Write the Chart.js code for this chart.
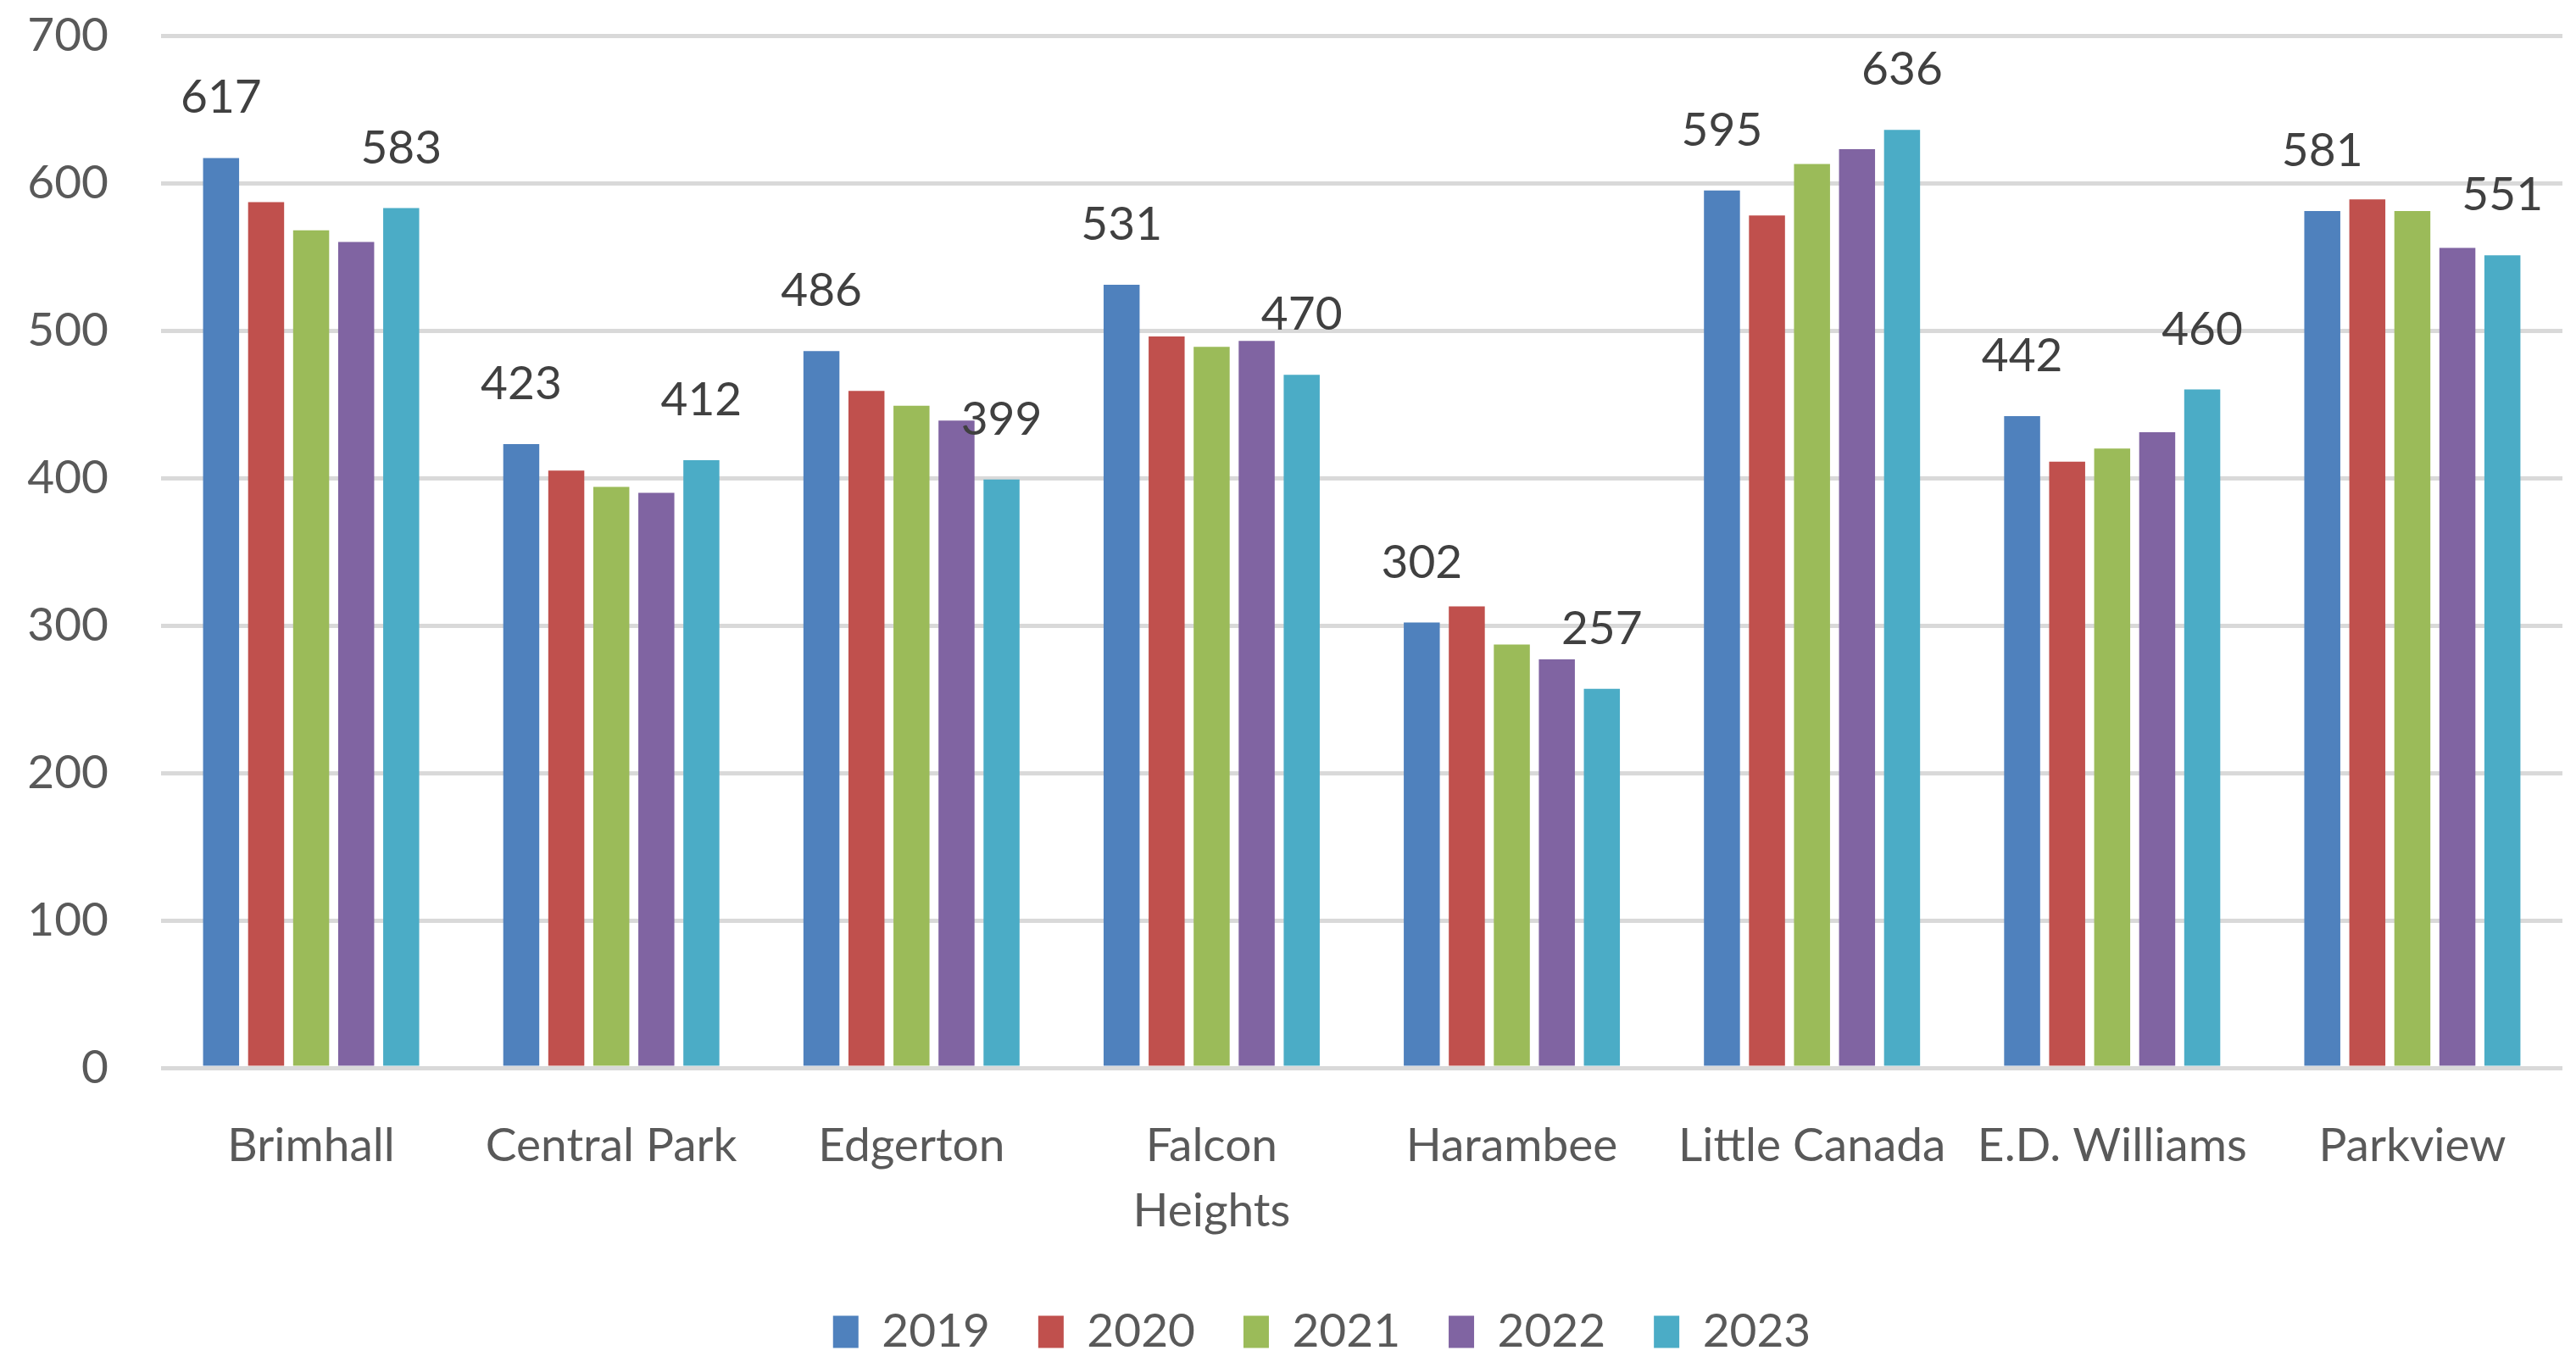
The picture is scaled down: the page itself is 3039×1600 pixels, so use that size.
<!DOCTYPE html>
<html>
<head>
<meta charset="utf-8">
<script src="https://cdn.jsdelivr.net/npm/chart.js@4/dist/chart.umd.min.js"></script>
<style>
  body { margin: 0; background: #ffffff; }
  canvas { display: block; }
</style>
</head>
<body>
<canvas id="schoolChart" width="3039" height="1600"></canvas>
<script>
// カテゴリ（学校名）
const categories = [
  "Brimhall",
  "Central Park",
  "Edgerton",
  ["Falcon", "Heights"],
  "Harambee",
  "Little Canada",
  "E.D. Williams",
  "Parkview",
];

// 年ごとの値
const years = ["2019", "2020", "2021", "2022", "2023"];
const values2019 = [617, 423, 486, 531, 302, 595, 442, 581];
const values2020 = [587, 405, 459, 496, 313, 578, 411, 589];
const values2021 = [568, 394, 449, 489, 287, 613, 420, 581];
const values2022 = [560, 390, 439, 493, 277, 623, 431, 556];
const values2023 = [583, 412, 399, 470, 257, 636, 460, 551];

// Y軸の目盛り
const yTicks = [0, 100, 200, 300, 400, 500, 600, 700];

const colors = ["#4F81BD", "#C0504D", "#9BBB59", "#8064A2", "#4BACC6"];
const seriesValues = [values2019, values2020, values2021, values2022, values2023];

// 値ラベルを表示する系列（2019と2023のみ）
const labeledSeries = [0, 4];

Chart.defaults.font.family = "Lato, 'Open Sans', sans-serif";
Chart.defaults.font.size = 55;
Chart.defaults.color = "#595959";

// バーの上に値を描くプラグイン
const valueLabels = {
  id: "valueLabels",
  afterDatasetsDraw(chart) {
    const ctx = chart.ctx;
    ctx.save();
    ctx.font = "55px Lato, 'Open Sans', sans-serif";
    ctx.fillStyle = "#404040";
    ctx.textAlign = "center";
    ctx.textBaseline = "alphabetic";
    labeledSeries.forEach((di) => {
      const meta = chart.getDatasetMeta(di);
      meta.data.forEach((bar, i) => {
        const value = chart.data.datasets[di].data[i];
        ctx.fillText(String(value), bar.x, bar.y - 53);
      });
    });
    ctx.restore();
  },
};

// 凡例の位置を少し調整
const legendShift = {
  id: "legendShift",
  afterLayout(chart) {
    chart.legend.left += 48;
    chart.legend.right += 48;
    chart.legend.top += 9;
    chart.legend.bottom += 9;
  },
};

const chartConfig = {
  type: "bar",
  data: {
    labels: categories,
    datasets: years.map((year, i) => ({
      label: year,
      data: seriesValues[i],
      backgroundColor: colors[i],
      borderWidth: 0,
      categoryPercentage: 0.75,
      barPercentage: 0.8,
    })),
  },
  options: {
    responsive: false,
    animation: false,
    layout: {
      padding: { top: 42, right: 16, bottom: 0, left: 0 },
    },
    scales: {
      x: {
        grid: { display: false },
        border: { display: false },
        ticks: {
          color: "#595959",
          padding: 46,
          maxRotation: 0,
          minRotation: 0,
          autoSkip: false,
          font: { size: 55, lineHeight: 1.4 },
        },
        afterFit: (scale) => {
          scale.height = 218;
        },
      },
      y: {
        min: 0,
        max: 700,
        afterBuildTicks: (scale) => {
          scale.ticks = yTicks.map((v) => ({ value: v }));
        },
        grid: {
          color: "#D9D9D9",
          lineWidth: 5,
          drawTicks: false,
        },
        border: { display: false },
        ticks: {
          color: "#595959",
          padding: 62,
          font: { size: 55 },
        },
        afterFit: (scale) => {
          // 目盛りラベル分の上下余白は使わない
          scale.width = 190;
          scale.paddingTop = 0;
          scale.paddingBottom = 0;
        },
      },
    },
    plugins: {
      legend: {
        position: "bottom",
        labels: {
          color: "#595959",
          boxWidth: 30,
          boxHeight: 38,
          padding: 57,
          font: { size: 55 },
        },
      },
      tooltip: { enabled: false },
      title: { display: false },
    },
  },
  plugins: [valueLabels, legendShift],
};

new Chart(document.getElementById("schoolChart"), chartConfig);
</script>
</body>
</html>
